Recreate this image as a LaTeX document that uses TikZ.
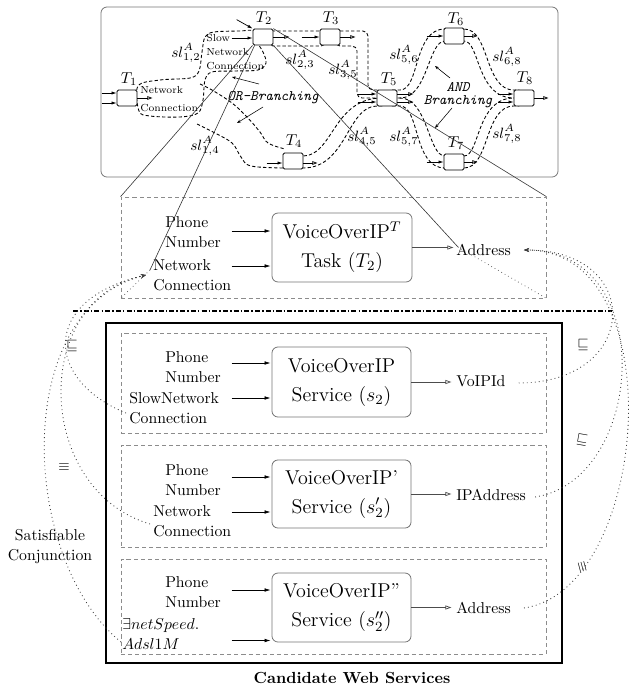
\RequirePackage{fix-cm}
\documentclass[tikz,border=0pt]{standalone}
\usetikzlibrary{arrows.meta,calc}
\newcommand{\myfs}[2]{\fontsize{#1}{#2}\selectfont}
\begin{document}
\begin{tikzpicture}[x=0.635pt,y=-0.635pt,
  taskbox/.style={draw, rounded corners=0.95pt, minimum width=12.7pt, minimum height=10.16pt, inner sep=0pt, line width=0.5pt, fill=white},
  tlabel/.style={font=\myfs{10}{12}, inner sep=0pt},
  sllabel/.style={font=\myfs{9.5}{11}, inner sep=0pt},
  smalltxt/.style={font=\myfs{6.5}{8.6}, align=left, inner sep=0pt},
  inarr/.style={-{Latex[length=3.2pt,width=2pt]}, line width=0.45pt},
  outarr/.style={-{Triangle[open,length=3.2pt,width=2.3pt]}, line width=0.45pt},
  tube/.style={dash pattern=on 2.1pt off 1.4pt, line width=0.55pt},
  zoomline/.style={line width=0.38pt, black!80},
  zoomdot/.style={dotted, line width=0.45pt, black!70},
  gbox/.style={draw=black!45, dash pattern=on 2.6pt off 1.9pt, line width=0.5pt, inner sep=0pt},
  svc/.style={draw=black!55, rounded corners=3.8pt, line width=0.5pt, align=center, font=\myfs{12.7}{18.4}},
  sidetxt/.style={font=\myfs{10}{12.4}, align=left, inner sep=0.6pt},
  bigin/.style={-{Latex[length=3.8pt,width=2.3pt]}, line width=0.45pt},
  bigout/.style={-{Triangle[open,length=3.8pt,width=2.5pt]}, line width=0.45pt, black!70},
  relcurve/.style={dotted, line width=0.55pt, black!75},
  symtxt/.style={font=\myfs{9}{10}, inner sep=0pt},
  brl/.style={font=\myfs{9.2}{8.6}\ttfamily\itshape, align=center, inner sep=0pt},
  brarr/.style={-{Stealth[length=2.5pt,width=1.9pt]}, line width=0.35pt},
  relarr/.style={-{Stealth[length=3.2pt,width=2.5pt]}},
]
\useasboundingbox (0,0) rectangle (640,690);

% ---------- top frame ----------
\node[draw=black!55, rounded corners=3.8pt, line width=0.5pt, minimum width=290.2pt, minimum height=107.95pt, inner sep=0pt] (top) at (329.5,92) {};

% ---------- tubes ----------
\draw[tube] plot[smooth cycle, tension=0.55] coordinates {(138,86) (160,80) (190,78) (199,71) (202,52) (205,37) (214,32) (240,31) (253,31) (257,42) (263,52) (266,63) (258,70) (235,71) (212,72) (205,80) (203,100) (198,113) (180,117) (150,116) (139,111)};
\draw[tube] plot[smooth, tension=0.6] coordinates {(200,84) (212,90) (232,103) (247,117) (260,132) (268,143) (285,149)};
\draw[tube] plot[smooth, tension=0.6] coordinates {(197,124) (213,132) (232,143) (241,157) (251,166) (285,168)};
\draw[tube, rounded corners=3.2pt] (268,31) rectangle (326,46);
\draw[tube, rounded corners=3.2pt] (335,31) -- (368,31) -- (368,90) -- (382,90) -- (382,98) -- (357,98) -- (357,46) -- (335,46) -- cycle;
\draw[tube] (298,156) -- (303,156) .. controls (333,156) and (333,98) .. (382,98) -- (382,106) -- (377,106) .. controls (347,106) and (347,168) .. (303,168) -- (298,168) -- cycle;
\draw[tube] (392,90) -- (400,90) .. controls (420,90) and (413,29) .. (445,29) -- (450,29) -- (450,41) -- (445,41) .. controls (428,41) and (428,98) .. (400,98) -- (392,98) -- cycle;
\draw[tube] (392,106) -- (400,106) .. controls (420,106) and (413,168) .. (445,168) -- (450,168) -- (450,156) -- (445,156) .. controls (428,156) and (428,98) .. (400,98) -- (392,98) -- cycle;
\draw[tube] (459,29) -- (464,29) .. controls (490,29) and (484,90) .. (514,90) -- (519,90) -- (519,98) -- (514,98) .. controls (476,98) and (480,41) .. (464,41) -- (459,41) -- cycle;
\draw[tube] (459,168) -- (464,168) .. controls (490,168) and (484,106) .. (514,106) -- (519,106) -- (519,98) -- (514,98) .. controls (476,98) and (480,156) .. (464,156) -- (459,156) -- cycle;

% ---------- tasks ----------
\node[taskbox] (T1) at (127,98) {};
\node[taskbox] (T2) at (263,37) {};
\node[taskbox] (T3) at (330,37) {};
\node[taskbox] (T4) at (293,161) {};
\node[taskbox] (T5) at (387,98) {};
\node[taskbox] (T6) at (454,36) {};
\node[taskbox] (T7) at (454,162) {};
\node[taskbox] (T8) at (524,98) {};
\node[tlabel] (T1l) at (129,79) {$T_1$};
\node[tlabel] (T2l) at (264,18) {$T_2$};
\node[tlabel] (T3l) at (331,18) {$T_3$};
\node[tlabel] (T4l) at (294,141) {$T_4$};
\node[tlabel] (T5l) at (389,79) {$T_5$};
\node[tlabel] (T6l) at (456,19) {$T_6$};
\node[tlabel] (T7l) at (456,143) {$T_7$};
\node[tlabel] (T8l) at (525,78) {$T_8$};

% arrows of tasks
\draw[inarr] ($(T1.west)+(-15,-5)$) -- ($(T1.west)+(0,-5)$);
\draw[inarr] ($(T1.west)+(-15,5)$) -- ($(T1.west)+(0,5)$);
\draw[outarr] (T1.east) -- ++(15,0);
\draw[inarr] ($(T2.west)+(-21,1)$) -- ($(T2.west)+(0,1)$);
\draw[inarr] ($(T2.north west)+(-16,-9)$) -- (T2.north west);
\draw[outarr] (T2.east) -- ++(16,0);
\draw[inarr] ($(T3.west)+(-18,0)$) -- (T3.west);
\draw[outarr] (T3.east) -- ++(15,0);
\draw[inarr] ($(T4.west)+(-16,2)$) -- ($(T4.west)+(0,2)$);
\draw[outarr] ($(T4.east)+(0,2)$) -- ++(14,0);
\draw[inarr] ($(T5.west)+(-19,-4)$) -- ($(T5.west)+(0,-4)$);
\draw[inarr] ($(T5.west)+(-19,4)$) -- ($(T5.west)+(0,4)$);
\draw[outarr] ($(T5.east)+(0,-4)$) -- ++(16,0);
\draw[outarr] ($(T5.east)+(0,4)$) -- ++(16,0);
\draw[inarr] ($(T6.west)+(-17,0)$) -- (T6.west);
\draw[outarr] (T6.east) -- ++(13,0);
\draw[inarr] ($(T7.west)+(-17,0)$) -- (T7.west);
\draw[outarr] (T7.east) -- ++(13,0);
\draw[inarr] ($(T8.west)+(-16,-4)$) -- ($(T8.west)+(0,-4)$);
\draw[inarr] ($(T8.west)+(-16,4)$) -- ($(T8.west)+(0,4)$);
\draw[outarr] (T8.east) -- ++(14,0);

% texts in top part
\node[smalltxt, anchor=west, font=\myfs{6.5}{11.4}] (nc1) at (140,99) {Network\\Connection};
\node[smalltxt, anchor=west] (snc) at (206,52) {Slow\\Network\\Connection};
\node[brl] (orb) at (273,98) {OR-Branching};
\draw[brarr] ($(orb)+(-14,-14)$) -- ($(orb)+(-41,-21)$);
\draw[brarr] ($(orb)+(-10,9)$) -- ($(orb)+(-36,25)$);
\node[brl] (andb) at (458,95) {AND\\Branching};
\draw[brarr] ($(andb)+(-8,-17)$) -- ($(andb)+(-23,-29)$);
\draw[brarr] ($(andb)+(-6,13)$) -- ($(andb)+(-23,33)$);

\node[sllabel] (l12) at (186,53) {$sl^A_{1,2}$};
\node[sllabel] (l14) at (205,146) {$sl^A_{1,4}$};
\node[sllabel] (l23) at (300,60) {$sl^A_{2,3}$};
\node[sllabel] (l35) at (343,70) {$sl^A_{3,5}$};
\node[sllabel] (l45) at (362,137) {$sl^A_{4,5}$};
\node[sllabel] (l56) at (404,55) {$sl^A_{5,6}$};
\node[sllabel] (l57) at (404,137) {$sl^A_{5,7}$};
\node[sllabel] (l68) at (507,57) {$sl^A_{6,8}$};
\node[sllabel] (l78) at (507,134) {$sl^A_{7,8}$};

% ---------- task box ----------
\node[gbox, minimum width=269.9pt, minimum height=64.1pt] (TB) at (333.5,247.5) {};
\node[svc, minimum width=88.9pt, minimum height=43.8pt] (TK) at (342,247.5) {VoiceOverIP$^T$\\Task ($T_2$)};
\node[sidetxt, anchor=west] (tph) at (164,232) {Phone\\Number};
\node[sidetxt, anchor=west] (tnet) at (152,275) {Network\\Connection};
\draw[bigin] ($(TK.west)+(-40,-16.5)$) -- ($(TK.west)+(-1,-16.5)$);
\draw[bigin] ($(TK.west)+(-40,18.5)$) -- ($(TK.west)+(-1,18.5)$);
\draw[bigout] (TK.east) -- ($(TK.east)+(41,0)$);
\node[sidetxt, anchor=west] (tadr) at (455,250) {Address};

% zoom lines
\coordinate (k2) at (150,270);
\coordinate (k4) at (458,247);
\draw[zoomline] (T2.south west) -- (TB.north west);
\draw[zoomline] ($(T2.south west)+(2,0)$) -- (k2);
\draw[zoomdot] (k2) -- (TB.south west);
\draw[zoomline] (T2.north east) -- (TB.north east);
\draw[zoomline] (T2.south east) -- (k4);
\draw[zoomdot] (k4) -- (TB.south east);

% dash-dot separator
\coordinate (dd1) at (73,311);
\coordinate (dd2) at (612,311);
\draw[line width=1.1pt, dash pattern=on 3.2pt off 1.3pt on 1pt off 1.3pt] (dd1) -- (dd2);

% ---------- candidate services ----------
\node[draw, line width=0.75pt, minimum width=289.6pt, minimum height=215.9pt, inner sep=0pt] (CB) at (334,493) {};
\node[font=\myfs{10.2}{12}\bfseries, inner sep=0pt] (cws) at (352,678) {Candidate Web Services};

\node[gbox, minimum width=269.9pt, minimum height=63.5pt] (B1) at (333.5,383) {};
\node[gbox, minimum width=269.9pt, minimum height=64.8pt] (B2) at (333.5,496) {};
\node[gbox, minimum width=269.9pt, minimum height=60.3pt] (B3) at (333.5,606.5) {};

\node[svc, minimum width=88.3pt, minimum height=44.45pt] (S1) at (341.5,382) {VoiceOverIP\\Service ($s_2$)};
\node[svc, minimum width=88.3pt, minimum height=43.2pt] (S2) at (341.5,494) {VoiceOverIP'\\Service ($s'_2$)};
\node[svc, minimum width=88.3pt, minimum height=43.8pt] (S3) at (341.5,607.5) {VoiceOverIP''\\Service ($s''_2$)};

\node[sidetxt, anchor=west] (p1) at (164,367) {Phone\\Number};
\node[sidetxt, anchor=west] (n1) at (128,408) {SlowNetwork\\Connection};
\draw[bigin] ($(S1.west)+(-40,-19)$) -- ($(S1.west)+(-1,-19)$);
\draw[bigin] ($(S1.west)+(-40,16)$) -- ($(S1.west)+(-1,16)$);
\draw[bigout] (S1.east) -- ($(S1.east)+(40,0)$);
\node[sidetxt, anchor=west] (o1) at (455,381) {VoIPId};

\node[sidetxt, anchor=west] (p2) at (164,480) {Phone\\Number};
\node[sidetxt, anchor=west] (n2) at (152,521) {Network\\Connection};
\draw[bigin] ($(S2.west)+(-40,-17)$) -- ($(S2.west)+(-1,-17)$);
\draw[bigin] ($(S2.west)+(-40,18)$) -- ($(S2.west)+(-1,18)$);
\draw[bigout] (S2.east) -- ($(S2.east)+(40,0)$);
\node[sidetxt, anchor=west] (o2) at (455,495) {IPAddress};

\node[sidetxt, anchor=west] (p3) at (164,592) {Phone\\Number};
\node[sidetxt, anchor=west] (e3) at (121,634) {$\exists netSpeed.$\\$Adsl1M$};
\draw[bigin] ($(S3.west)+(-40,-17.5)$) -- ($(S3.west)+(-1,-17.5)$);
\draw[bigin] ($(S3.west)+(-40,33)$) -- ($(S3.west)+(-1,33)$);
\draw[bigout] (S3.east) -- ($(S3.east)+(40,0)$);
\node[sidetxt, anchor=west] (o3) at (455,608) {Address};

% ---------- relation curves ----------
\draw[relcurve, relarr] ($(n1.west)+(-2,5)$) .. controls (45,380) and (40,300) .. ($(tnet.west)+(-6,0)$);
\draw[relcurve, relarr] ($(n2.west)+(-2,3)$) .. controls (35,490) and (30,300) .. ($(tnet.west)+(-6,0)$);
\draw[relcurve, relarr] ($(e3.west)+(0,8)$) .. controls (20,560) and (10,310) .. ($(tnet.west)+(-6,0)$);
\draw[relcurve, relarr] ($(o1.east)+(12,2)$) .. controls (640,383) and (645,250) .. ($(tadr.east)+(12,0)$);
\draw[relcurve, relarr] ($(o2.east)+(8,2)$) .. controls (645,480) and (660,250) .. ($(tadr.east)+(12,0)$);
\draw[relcurve, relarr] ($(o3.east)+(12,0)$) .. controls (650,590) and (675,250) .. ($(tadr.east)+(12,0)$);

\node[symtxt] (q1) at (72,346) {$\sqsubseteq$};
\node[symtxt] (q2) at (64,467) {$\equiv$};
\node[symtxt] (q3) at (583,345) {$\sqsubseteq$};
\node[symtxt, rotate=-10] (q4) at (582,440) {$\sqsubseteq$};
\node[symtxt, rotate=-75] (q5) at (582,567) {$\equiv$};
\node[font=\myfs{10}{12.7}, align=center, inner sep=0pt] (sc) at (50,547) {Satisfiable\\Conjunction};
\end{tikzpicture}
\end{document}
